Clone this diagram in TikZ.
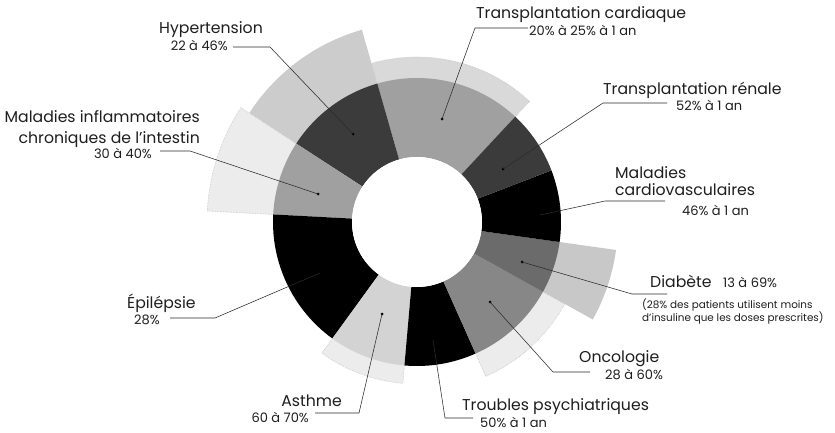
\documentclass[tikz,border=0pt]{standalone}
\usepackage{fontspec}
\setmainfont{Poppins}
\definecolor{txt}{HTML}{1E1E1E}
\definecolor{ln}{HTML}{2A2A2A}
\definecolor{gmid}{HTML}{A0A0A0}
\definecolor{gdark}{HTML}{3B3B3B}
\definecolor{gasth}{HTML}{D3D3D3}
\definecolor{gonco}{HTML}{878787}
\definecolor{gdiab}{HTML}{6B6B6B}
\definecolor{extA}{HTML}{D9D9D9}
\definecolor{extB}{HTML}{CCCCCC}
\definecolor{extC}{HTML}{ECECEC}
\definecolor{extD}{HTML}{C8C8C8}
\definecolor{dotedge}{HTML}{C4C4C4}
\newcommand\ringsec[5]{\path[#5] (#1:#3pt) arc[start angle=#1,end angle=#2,radius=#3pt] -- (#2:#4pt) arc[start angle=#2,end angle=#1,radius=#4pt] -- cycle;}
\begin{document}
\begin{tikzpicture}[x=1pt,y=1pt,
  lab/.style={font=\fontsize{15.7}{17}\selectfont, text=txt, inner sep=0pt},
  sub/.style={font=\fontsize{13}{14}\selectfont, text=txt, inner sep=0pt},
  note/.style={font=\fontsize{10.4}{12}\selectfont, text=txt, inner sep=0pt},
  dotmark/.style={circle, fill=black, inner sep=0pt, minimum size=3pt},
  leader/.style={draw=ln, line width=0.55pt},
  dotext/.style={draw=dotedge, densely dotted, line width=0.6pt}]
\useasboundingbox[fill=white] (0,0) rectangle (835,432);
\begin{scope}[shift={(417,210)}]
  % outer extensions
  \ringsec{47}{106}{100}{165}{fill=extA, dotext}
  \ringsec{106}{147}{100}{200}{fill=extB}
  \ringsec{147}{177}{100}{210}{fill=extC, dotext}
  \ringsec{234}{265}{100}{162}{fill=extC, dotext}
  \ringsec{294}{331}{100}{169}{fill=extC, dotext}
  \ringsec{331}{352}{100}{201}{fill=extD}
  % inner ring
  \ringsec{47}{106}{65}{144}{fill=gmid}
  \ringsec{106}{147}{65}{144}{fill=gdark}
  \ringsec{147}{177}{65}{144}{fill=gmid}
  \ringsec{177}{234}{65}{144}{fill=black}
  \ringsec{234}{265}{65}{144}{fill=gasth}
  \ringsec{265}{294}{65}{144}{fill=black}
  \ringsec{294}{331}{65}{144}{fill=gonco}
  \ringsec{331}{352}{65}{144}{fill=gdiab}
  \ringsec{352}{381}{65}{144}{fill=black}
  \ringsec{21}{47}{65}{144}{fill=gdark}
  \fill[white] (0,0) circle[radius=65pt];
\end{scope}

% Hypertension
\node[dotmark] (dh) at (353,298) {};
\coordinate (h1) at (270,385); \coordinate (h2) at (233,385);
\draw[leader] (dh.center) -- (h1) -- (h2);
\node[lab, anchor=base east] (th) at (263,398) {Hypertension};
\node[sub, anchor=base east] (vh) at (228,381) {22 à 46\%};

% Transplantation cardiaque
\node[dotmark] (dc) at (442,313) {};
\coordinate (c1) at (475,404); \coordinate (c2) at (528,404);
\draw[leader] (dc.center) -- (c1) -- (c2);
\node[lab, anchor=base west] (tc) at (476,413) {Transplantation cardiaque};
\node[sub, anchor=base west] (vc) at (529,396) {20\% à 25\% à 1 an};

% Transplantation renale
\node[dotmark] (dr) at (503,263) {};
\coordinate (r1) at (603,329); \coordinate (r2) at (667,329);
\draw[leader] (dr.center) -- (r1) -- (r2);
\node[lab, anchor=base west] (tr) at (603,337) {Transplantation rénale};
\node[sub, anchor=base west] (vr) at (676,322) {52\% à 1 an};

% Maladies cardiovasculaires
\node[dotmark] (dv) at (540,217) {};
\coordinate (v1) at (605,231); \coordinate (v2) at (665,231);
\draw[leader] (dv.center) -- (v1) -- (v2);
\node[lab, anchor=base west] (tv1) at (615,254) {Maladies};
\node[lab, anchor=base west] (tv2) at (615,237) {cardiovasculaires};
\node[sub, anchor=base west] (vv) at (682,217) {46\% à 1 an};

% Diabete
\node[dotmark] (dd) at (522,170) {};
\coordinate (d1) at (632,138); \coordinate (d2) at (667,138);
\draw[leader] (dd.center) -- (d1) -- (d2);
\node[lab, anchor=base west] (td) at (650,145) {Diabète};
\node[sub, anchor=base west] (vd) at (723,145) {13 à 69\%};
\node[note, anchor=base west] (nd1) at (642,124) {(28\% des patients utilisent moins};
\node[note, anchor=base west] (nd2) at (642,111) {d’insuline que les doses prescrites)};

% Oncologie
\node[dotmark] (do) at (490,130) {};
\coordinate (o1) at (553,60); \coordinate (o2) at (590,60);
\draw[leader] (do.center) -- (o1) -- (o2);
\node[lab, anchor=base west] (to) at (579,70) {Oncologie};
\node[sub, anchor=base west] (vo) at (605,53) {28 à 60\%};

% Troubles psychiatriques
\node[dotmark] (dp) at (433,92) {};
\coordinate (p1) at (445,14); \coordinate (p2) at (473,14);
\draw[leader] (dp.center) -- (p1) -- (p2);
\node[lab, anchor=base west] (tp) at (462,22) {Troubles psychiatriques};
\node[sub, anchor=base west] (vp) at (480,5) {50\% à 1 an};

% Asthme
\node[dotmark] (da) at (382,118) {};
\coordinate (a1) at (359,19); \coordinate (a2) at (315,19);
\draw[leader] (da.center) -- (a1) -- (a2);
\node[lab, anchor=base east] (ta) at (342,26) {Asthme};
\node[sub, anchor=base east] (va) at (309,10) {60 à 70\%};

% Epilepsie
\node[dotmark] (de) at (320,159) {};
\coordinate (e1) at (215,114); \coordinate (e2) at (170,114);
\draw[leader] (de.center) -- (e1) -- (e2);
\node[lab, anchor=base west] (te) at (127,124) {Épilépsie};
\node[sub, anchor=base west] (ve) at (134,108) {28\%};

% MICI
\node[dotmark] (dm) at (318,238) {};
\coordinate (m1) at (190,281); \coordinate (m2) at (160,281);
\draw[leader] (dm.center) -- (m1) -- (m2);
\node[lab, anchor=base east] (tm1) at (200,309) {Maladies inflammatoires};
\node[lab, anchor=base east] (tm2) at (200,289) {chroniques de l’intestin};
\node[sub, anchor=base east] (vm) at (152,274) {30 à 40\%};
\end{tikzpicture}
\end{document}
